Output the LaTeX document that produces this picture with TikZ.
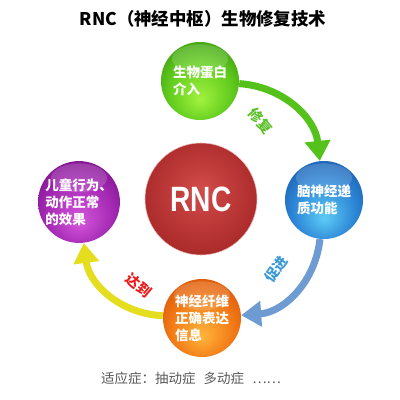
\documentclass[tikz,border=0pt]{standalone}
\usepackage{fontspec}
\setmainfont{Noto Sans CJK SC}
\newfontfamily\latinfont{Liberation Sans}
\usetikzlibrary{arrows.meta}

\definecolor{gin}{HTML}{A2F23E}
\definecolor{gmid}{HTML}{62CC1E}
\definecolor{gout}{HTML}{2E8A0C}
\definecolor{bin}{HTML}{5CCBF6}
\definecolor{bmid}{HTML}{2D86D6}
\definecolor{bout}{HTML}{134C9E}
\definecolor{oin}{HTML}{FFB53C}
\definecolor{omid}{HTML}{F27A16}
\definecolor{oout}{HTML}{CF4406}
\definecolor{pin}{HTML}{D457DC}
\definecolor{pmid}{HTML}{A52AB4}
\definecolor{pout}{HTML}{6C0A7E}
\definecolor{rin}{HTML}{D24C4A}
\definecolor{rout}{HTML}{A62626}
\definecolor{arrowgreen}{HTML}{55C21C}
\definecolor{arrowblue}{HTML}{6E9CD2}
\definecolor{arrowyellow}{HTML}{E4DE1E}
\definecolor{lblgreen}{HTML}{5CC02A}
\definecolor{lblblue}{HTML}{3A98D6}
\definecolor{lblred}{HTML}{F01818}

\pgfdeclareradialshading{ballgreen}{\pgfpoint{0bp}{-12bp}}{color(0bp)=(gin); color(20bp)=(gmid); color(38bp)=(gout); color(50bp)=(gout)}
\pgfdeclareradialshading{ballblue}{\pgfpoint{0bp}{-12bp}}{color(0bp)=(bin); color(20bp)=(bmid); color(38bp)=(bout); color(50bp)=(bout)}
\pgfdeclareradialshading{ballorange}{\pgfpoint{0bp}{-12bp}}{color(0bp)=(oin); color(20bp)=(omid); color(38bp)=(oout); color(50bp)=(oout)}
\pgfdeclareradialshading{ballpurple}{\pgfpoint{0bp}{-12bp}}{color(0bp)=(pin); color(20bp)=(pmid); color(38bp)=(pout); color(50bp)=(pout)}
\pgfdeclareradialshading{ballred}{\pgfpoint{0bp}{4bp}}{color(0bp)=(rin); color(30bp)=(rout); color(50bp)=(rout)}

\begin{document}
\begin{tikzpicture}
          [x=0.025cm, y=-0.025cm,
          font=\fontsize{9.6}{12}\selectfont\bfseries,
          ball/.style={shape=circle, shade, minimum size=1.95cm, inner sep=0pt, text=white, align=left},
          gloss/.style={path picture={\fill[white, opacity=0.16] ([yshift=-0.42cm]path picture bounding box.north) ellipse (0.7cm and 0.36cm);}},
          arc/.style={-{Triangle[length=0.5cm,width=0.62cm]}, line width=5pt},
          lbl/.style={font=\fontsize{10}{12}\selectfont\bfseries}]

            \useasboundingbox (0,0) rectangle (400,400);
            \node (title) at (203,19) {\fontsize{12.4}{14}\selectfont RNC（神经中枢）生物修复技术};

            \node (rnc) [ball, shading=ballred, minimum size=2.8cm, draw=white!60!rin, thin] at (201,199) {\latinfont\fontsize{25}{30}\selectfont\scalebox{0.8}[1]{RNC}};
            \node (bio) [ball, gloss, shading=ballgreen] at (200,81) {生物蛋白\\介入};
            \node (brain) [ball, gloss, shading=ballblue] at (324,200) {脑神经递\\质功能};
            \node (fiber) [ball, gloss, shading=ballorange] at (202,318) {神经纤维\\正确表达\\信息};
            \node (kid) [ball, gloss, shading=ballpurple] at (79,202) {儿童行为、\\动作正常\\的效果};

          \draw [arc, arrowgreen] (bio) to [bend left=40] (brain);
          \draw [arc, arrowblue] (brain) to [bend left=40] (fiber);
          \draw [arc, arrowyellow] (fiber) to [bend left=40] (kid);

            \node (fix) [lbl, text=lblgreen, rotate=-50] at (261,121) {修复};
            \node (boost) [lbl, text=lblblue, rotate=55] at (276,269) {促进};
            \node (reach) [lbl, text=lblred, rotate=-40] at (139,285) {达到};

            \node (note) [font=\fontsize{9.6}{12}\selectfont, text=black!65] at (191,378) {适应症：抽动症\hspace{0.6em}多动症\hspace{0.6em}……};

        \end{tikzpicture}
\end{document}
